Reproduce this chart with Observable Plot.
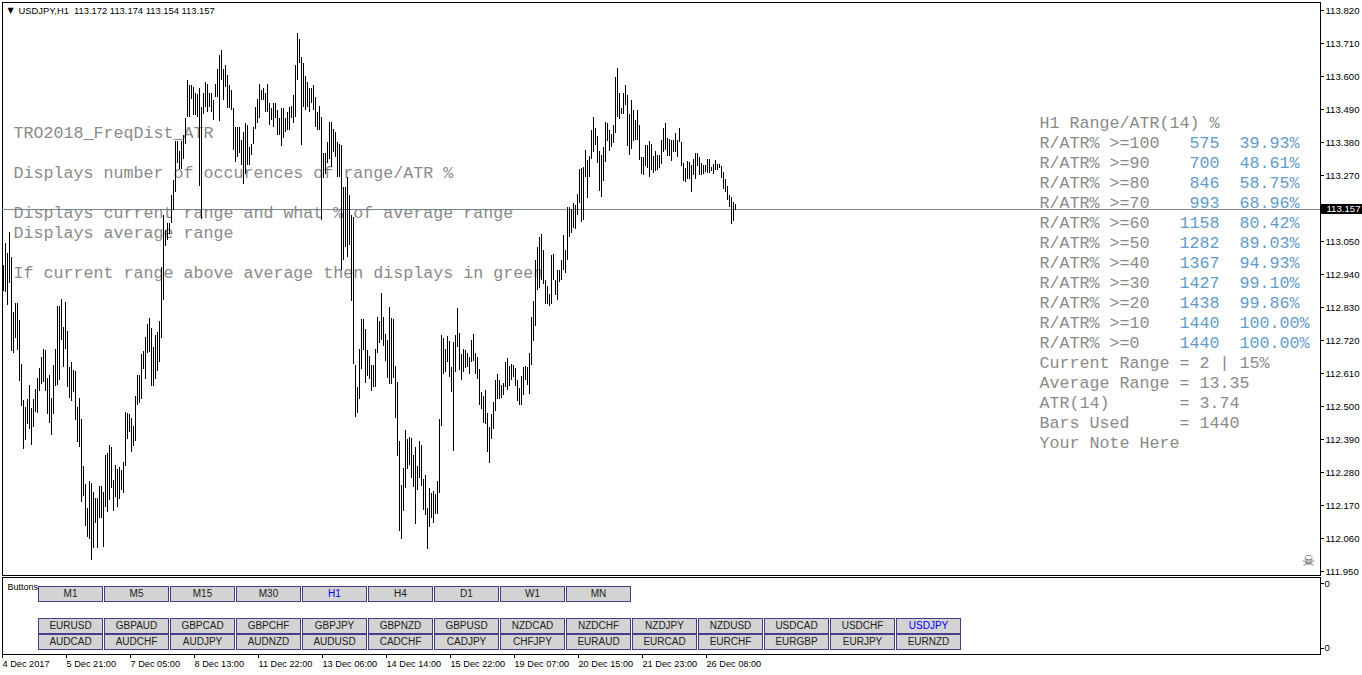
<!DOCTYPE html>
<html><head><meta charset="utf-8">
<script src="https://cdn.jsdelivr.net/npm/d3@7"></script>
<script src="https://cdn.jsdelivr.net/npm/@observablehq/plot@0.6"></script>
<style>
html,body{margin:0;padding:0;background:#fff;overflow:hidden}
#stage{position:relative;width:1362px;height:675px}
#stage svg{position:absolute;left:0;display:block;background:transparent}
text{white-space:pre}
</style></head><body><div id="stage"></div>
<script>
const highs=[112.970,113.042,113.009,113.079,112.997,
112.812,112.842,112.842,112.787,112.640,112.520,112.497,112.523,112.570,112.492,
112.523,112.557,112.593,112.626,112.663,112.690,112.687,112.593,112.603,112.527,
112.637,112.690,112.833,112.833,112.857,112.763,112.847,112.750,112.630,112.647,
112.620,112.617,112.497,112.527,112.457,112.300,112.240,112.160,112.250,112.243,
112.213,112.193,112.193,112.233,112.233,112.213,112.337,112.343,112.370,112.363,
112.253,112.303,112.290,112.297,112.287,112.313,112.480,112.477,112.473,112.460,
112.433,112.533,112.603,112.603,112.673,112.683,112.730,112.773,112.793,112.760,
112.697,112.737,112.747,112.783,112.964,113.136,113.086,113.109,113.109,113.205,
113.253,113.382,113.382,113.350,113.382,113.403,113.459,113.586,113.570,113.570,
113.562,113.542,113.539,113.559,113.497,113.542,113.581,113.575,113.542,113.542,
113.520,113.575,113.625,113.670,113.686,113.625,113.636,113.603,113.570,113.553,
113.492,113.431,113.431,113.431,113.386,113.414,113.442,113.436,113.364,113.375,
113.431,113.497,113.525,113.572,113.553,113.559,113.542,113.575,113.509,113.492,
113.509,113.509,113.486,113.459,113.492,113.492,113.459,113.481,113.497,113.500,
113.536,113.636,113.745,113.723,113.664,113.642,113.600,113.581,113.559,113.559,
113.570,113.531,113.481,113.500,113.464,113.342,113.342,113.381,113.447,113.447,
113.425,113.414,113.381,113.375,113.370,113.231,113.231,113.264,113.203,113.136,
113.131,112.637,112.564,112.690,112.790,112.790,112.757,112.687,112.667,112.637,
112.637,112.690,112.797,112.783,112.877,112.797,112.740,112.720,112.830,112.793,
112.790,112.633,112.580,112.383,112.237,112.293,112.420,112.390,112.397,112.393,
112.337,112.364,112.300,112.383,112.370,112.257,112.270,112.160,112.227,112.210,
112.217,112.207,112.250,112.457,112.737,112.727,112.690,112.733,112.717,112.630,
112.713,112.737,112.827,112.743,112.673,112.690,112.687,112.677,112.663,112.720,
112.740,112.677,112.663,112.623,112.547,112.533,112.553,112.477,112.430,112.473,
112.513,112.587,112.607,112.587,112.570,112.577,112.647,112.660,112.633,112.640,
112.637,112.627,112.587,112.560,112.600,112.630,112.633,112.630,112.677,112.797,
112.850,112.988,113.030,113.064,113.072,113.019,112.919,112.899,112.875,113.003,
113.008,112.919,112.953,112.955,112.988,113.069,113.019,113.162,113.162,113.158,
113.178,113.169,113.208,113.289,113.292,113.297,113.353,113.319,113.333,113.419,
113.464,113.428,113.399,113.349,113.336,113.364,113.446,113.444,113.419,113.406,
113.436,113.597,113.628,113.542,113.492,113.542,113.569,113.536,113.475,113.519,
113.488,113.453,113.486,113.436,113.330,113.330,113.369,113.369,113.383,113.373,
113.333,113.349,113.336,113.336,113.386,113.428,113.442,113.392,113.389,113.388,
113.388,113.411,113.388,113.428,113.380,113.310,113.295,113.316,113.314,113.303,
113.325,113.345,113.345,113.330,113.310,113.303,113.303,113.325,113.325,113.297,
113.308,113.319,113.306,113.308,113.299,113.280,113.258,113.233,113.203,113.197,
113.180,113.174];
const lows=[112.884,112.881,112.837,112.909,112.684,
112.678,112.728,112.687,112.584,112.500,112.358,112.387,112.440,112.423,112.370,
112.430,112.481,112.477,112.550,112.573,112.580,112.550,112.473,112.443,112.403,
112.473,112.567,112.570,112.587,112.720,112.630,112.690,112.563,112.527,112.517,
112.547,112.453,112.380,112.363,112.180,112.200,112.100,112.063,112.057,111.987,
112.027,112.110,112.027,112.127,112.127,112.030,112.163,112.147,112.187,112.227,
112.150,112.197,112.163,112.190,112.220,112.210,112.300,112.390,112.413,112.347,
112.367,112.383,112.503,112.510,112.523,112.622,112.590,112.677,112.680,112.567,
112.567,112.590,112.617,112.647,112.727,112.853,113.033,113.053,113.075,113.109,
113.153,113.214,113.309,113.290,113.290,113.325,113.375,113.462,113.462,113.525,
113.470,113.470,113.464,113.234,113.125,113.475,113.497,113.481,113.497,113.481,
113.453,113.531,113.531,113.451,113.586,113.520,113.564,113.492,113.492,113.486,
113.353,113.314,113.331,113.342,113.303,113.239,113.275,113.303,113.303,113.336,
113.375,113.425,113.442,113.459,113.520,113.520,113.481,113.481,113.436,113.453,
113.431,113.459,113.403,113.403,113.367,113.392,113.414,113.420,113.420,113.459,
113.442,113.464,113.586,113.642,113.370,113.497,113.486,113.497,113.481,113.509,
113.486,113.431,113.420,113.420,113.120,113.259,113.275,113.309,113.325,113.297,
113.347,113.331,113.264,113.264,112.953,112.986,113.031,112.997,113.036,112.851,
112.640,112.464,112.476,112.523,112.623,112.687,112.577,112.600,112.590,112.550,
112.563,112.563,112.677,112.709,112.720,112.700,112.650,112.593,112.573,112.573,
112.593,112.460,112.333,112.083,112.057,112.150,112.227,112.290,112.303,112.260,
112.230,112.107,112.220,112.260,112.233,112.153,112.137,112.023,112.097,112.127,
112.110,112.140,112.140,112.210,112.433,112.607,112.613,112.647,112.597,112.547,
112.350,112.613,112.697,112.620,112.587,112.613,112.627,112.630,112.607,112.647,
112.650,112.607,112.590,112.503,112.490,112.442,112.440,112.347,112.310,112.390,
112.423,112.483,112.523,112.523,112.527,112.537,112.563,112.553,112.567,112.587,
112.597,112.567,112.517,112.503,112.503,112.537,112.587,112.570,112.540,112.637,
112.717,112.766,112.886,112.892,112.919,112.906,112.839,112.839,112.833,112.839,
112.919,112.869,112.853,112.913,112.919,112.953,112.944,112.988,113.064,113.077,
113.092,113.090,113.137,113.177,113.114,113.119,113.264,113.194,113.264,113.325,
113.347,113.369,113.310,113.216,113.197,113.250,113.314,113.384,113.349,113.364,
113.378,113.410,113.464,113.456,113.472,113.475,113.503,113.366,113.336,113.358,
113.384,113.388,113.386,113.319,113.272,113.269,113.300,113.295,113.264,113.288,
113.277,113.284,113.288,113.292,113.308,113.347,113.355,113.333,113.333,113.317,
113.347,113.347,113.330,113.380,113.299,113.249,113.247,113.256,113.258,113.214,
113.269,113.258,113.299,113.269,113.269,113.275,113.280,113.277,113.277,113.284,
113.275,113.286,113.286,113.292,113.260,113.225,113.214,113.186,113.164,113.108,
113.117,113.154];
const priceTicks=[113.820,113.710,113.600,113.490,113.380,113.270,113.050,112.940,112.830,112.720,112.610,112.500,112.390,112.280,112.170,112.060,111.950];
const bid=113.157;
const timeLabels=["4 Dec 2017","5 Dec 21:00","7 Dec 05:00","8 Dec 13:00","11 Dec 22:00","13 Dec 06:00","14 Dec 14:00","15 Dec 22:00","19 Dec 07:00","20 Dec 15:00","21 Dec 23:00","26 Dec 08:00"];
const tfButtons=["M1","M5","M15","M30","H1","H4","D1","W1","MN"];
const pairsA=["EURUSD","GBPAUD","GBPCAD","GBPCHF","GBPJPY","GBPNZD","GBPUSD","NZDCAD","NZDCHF","NZDJPY","NZDUSD","USDCAD","USDCHF","USDJPY"];
const pairsB=["AUDCAD","AUDCHF","AUDJPY","AUDNZD","AUDUSD","CADCHF","CADJPY","CHFJPY","EURAUD","EURCAD","EURCHF","EURGBP","EURJPY","EURNZD"];
const activeButtons=["H1","USDJPY"];
const noteLines=["TRO2018_FreqDist_ATR","","Displays number of occurences of range/ATR %","","Displays current range and what % of average range","Displays average range","","If current range above average then displays in green"];
const atrLevels=[100,90,80,70,60,50,40,30,20,10,0];
const atrCounts=[575,700,846,993,1158,1282,1367,1427,1438,1440,1440];
const atrPercents=["39.93%","48.61%","58.75%","68.96%","80.42%","89.03%","94.93%","99.10%","99.86%","100.00%","100.00%"];
const footerLines=["Current Range = 2 | 15%","Average Range = 13.35","ATR(14)       = 3.74","Bars Used     = 1440","Your Note Here"];

const bars=highs.map((h,i)=>({i,h,l:lows[i]}));
const axisFont="Liberation Sans",axisSize=9.6,timeSize=9.2;
const mono="'Liberation Mono',monospace";
const GREY="#8a8a8a",BLUE="#639bcb";
const stage=document.getElementById("stage");
const xDomain=[-0.5,658.5];

// layer 1: text objects laid on the chart window, below the bars
const rows=[];
noteLines.forEach((t,r)=>{if(t)rows.push({x:13,y:132+20*r,t,c:GREY,a:"start"})});
rows.push({x:1039,y:122,t:"H1 Range/ATR(14) %",c:GREY,a:"start"});
atrLevels.forEach((lv,r)=>{
  const y=142+20*r;
  rows.push({x:1039,y,t:"R/ATR% >="+lv,c:GREY,a:"start"});
  rows.push({x:1219,y,t:String(atrCounts[r]),c:BLUE,a:"end"});
  rows.push({x:1239,y,t:atrPercents[r],c:BLUE,a:"start"});
});
footerLines.forEach((t,r)=>rows.push({x:1039,y:362+20*r,t,c:GREY,a:"start"}));
const rowsS=rows.filter(d=>d.a==="start"),rowsE=rows.filter(d=>d.a==="end");
const notes=Plot.plot({width:1362,height:675,margin:0,x:{type:"identity",axis:null},y:{type:"identity",axis:null},style:{background:"transparent"},marks:[
  Plot.text(rowsS,{x:"x",y:"y",text:"t",fill:"c",textAnchor:"start",fontFamily:mono,fontSize:16.67}),
  Plot.text(rowsE,{x:"x",y:"y",text:"t",fill:"c",textAnchor:"end",fontFamily:mono,fontSize:16.67}),
  Plot.text(["USDJPY,H1  113.172 113.174 113.154 113.157"],{x:18,y:10,text:d=>d,textAnchor:"start",fontFamily:axisFont,fontSize:9.4,fill:"#000"}),
  Plot.text(["▼"],{x:10,y:10,text:d=>d,fontFamily:"DejaVu Sans",fontSize:8,fill:"#000"}),
  Plot.text(["☠"],{x:1308,y:561,text:d=>d,fontFamily:"DejaVu Sans",fontSize:15,fill:"#555"}),
  Plot.text(["Buttons"],{x:7,y:587,text:d=>d,textAnchor:"start",fontFamily:axisFont,fontSize:9,fill:"#000"})
]});
notes.style.top="0";stage.append(notes);

// layer 2: price pane
const main=Plot.plot({width:1362,height:576,marginTop:2,marginBottom:1,marginLeft:2,marginRight:42,
  style:{background:"transparent",shapeRendering:"crispEdges"},
  x:{domain:xDomain,axis:null},
  y:{domain:[111.93667,113.84667],axis:null},
  marks:[
    Plot.frame({stroke:"#000"}),
    Plot.ruleY([bid],{stroke:"#778899"}),
    Plot.ruleX(bars,{x:"i",y1:"h",y2:"l",stroke:"#000",strokeWidth:1}),
    Plot.axisY(priceTicks,{anchor:"right",tickSize:3,tickPadding:2,tickFormat:d3.format(".3f"),fontFamily:axisFont,fontSize:axisSize,label:null,color:"#000"}),
    Plot.ruleY([bid],{x1:659,x2:680,stroke:"#000",strokeWidth:10}),
    Plot.text([bid],{y:d=>d,x:660,text:d=>d3.format(".3f")(d),textAnchor:"start",fill:"#fff",fontFamily:axisFont,fontSize:axisSize,dx:3})
  ]});
main.style.top="0";stage.append(main);

// layer 3: sub-window and time axis
const lower=Plot.plot({width:1362,height:99,marginTop:1,marginBottom:21,marginLeft:2,marginRight:42,
  style:{background:"transparent",shapeRendering:"crispEdges"},
  x:{domain:xDomain,axis:null},
  y:{domain:[-0.1,1.1],axis:null},
  marks:[
    Plot.frame({stroke:"#000"}),
    Plot.axisY([0,1],{anchor:"right",tickSize:3,tickPadding:1,tickFormat:()=>"0",fontFamily:axisFont,fontSize:axisSize,label:null}),
    Plot.axisX(timeLabels.map((_,k)=>k*32),{anchor:"bottom",tickSize:4,tickPadding:2,tickFormat:d=>timeLabels[d/32],textAnchor:"start",dx:-1,fontFamily:axisFont,fontSize:timeSize,label:null})
  ]});
lower.style.top="576px";stage.append(lower);

// layer 4: button grid
const cells=[
  ...tfButtons.map((t,c)=>({t,c,r:0})),
  ...pairsA.map((t,c)=>({t,c,r:2})),
  ...pairsB.map((t,c)=>({t,c,r:3}))];
const btn=Plot.plot({width:1362,height:675,margin:0,
  style:{background:"transparent"},
  x:{type:"band",domain:d3.range(14),range:[37.5,961.5],paddingInner:0.03,paddingOuter:0,axis:null},
  y:{type:"band",domain:[0,1,2,3],range:[584.5,650.5],padding:0.07,axis:null},
  marks:[
    Plot.cell(cells,{x:"c",y:"r",fill:"#d3d3d3",stroke:"#483d8b",strokeWidth:1,shapeRendering:"crispEdges"}),
    Plot.text(cells,{x:"c",y:"r",text:"t",fill:d=>activeButtons.includes(d.t)?"#0000ff":"#222",fontFamily:axisFont,fontSize:10})
  ]});
btn.style.top="0";stage.append(btn);
</script></body></html>
